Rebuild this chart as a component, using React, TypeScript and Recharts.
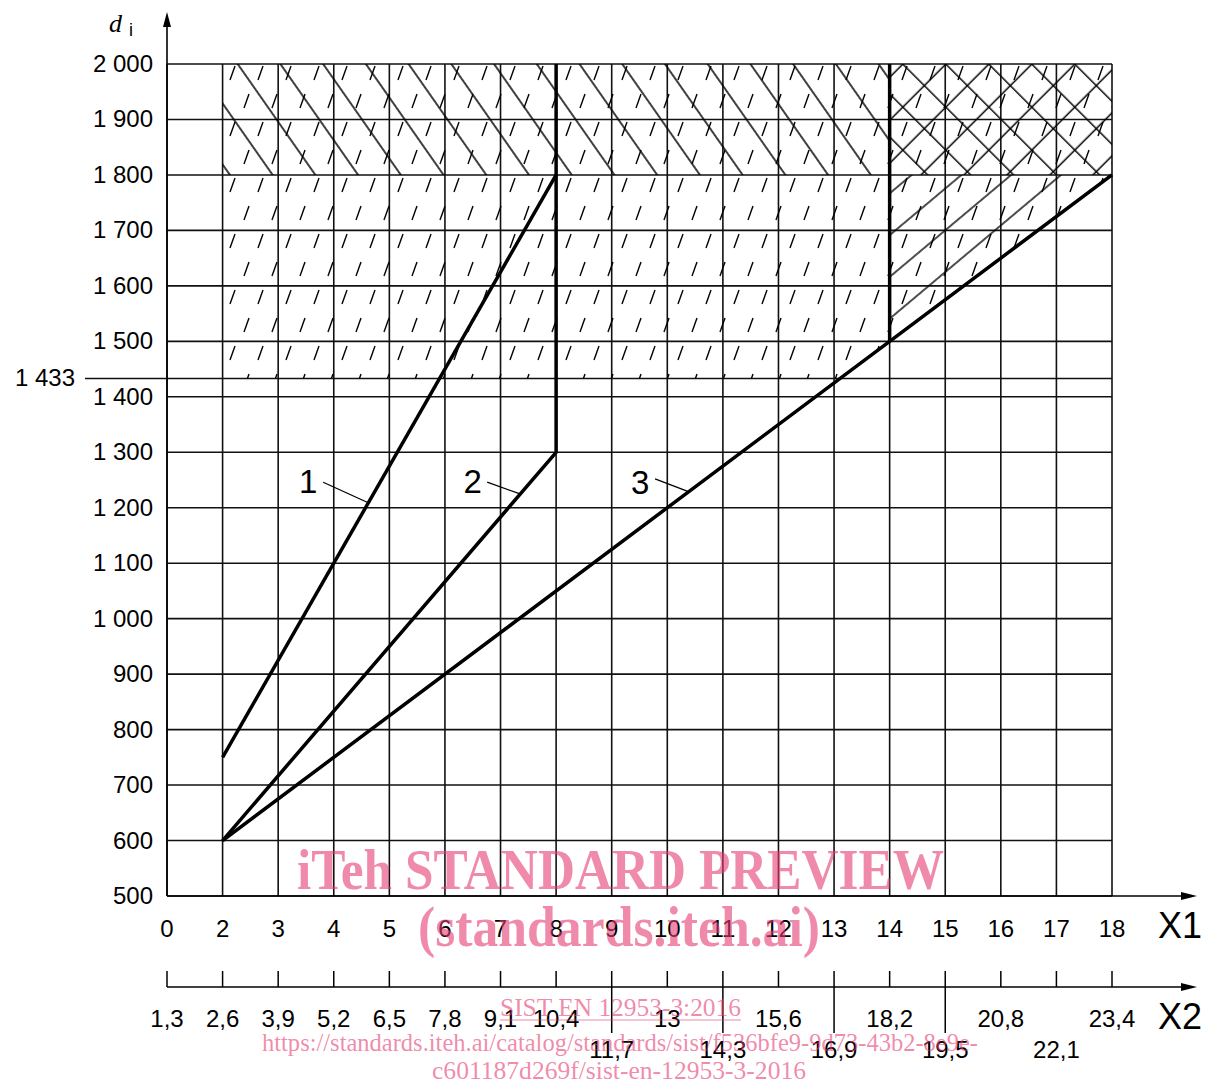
import React from 'react';
import {
  ComposedChart,
  Line,
  Area,
  XAxis,
  YAxis,
  CartesianGrid,
  ReferenceArea,
  ReferenceLine,
  ReferenceDot,
} from 'recharts';

// ─── Axes ────────────────────────────────────────────────────────────────────

// position 1 is the origin of the drawn axis (labelled "0" on X1, "1,3" on X2)
const xPositions = [1, 2, 3, 4, 5, 6, 7, 8, 9, 10, 11, 12, 13, 14, 15, 16, 17, 18];
const x1Labels = ['0', '2', '3', '4', '5', '6', '7', '8', '9', '10', '11', '12', '13', '14', '15', '16', '17', '18'];
const x2Labels = ['1,3', '2,6', '3,9', '5,2', '6,5', '7,8', '9,1', '10,4', '11,7', '13', '14,3', '15,6', '16,9', '18,2', '19,5', '20,8', '22,1', '23,4'];
const x2LowerRow = [9, 11, 13, 15, 17];
const x2LongTicks = [9, 11, 13, 15];

const yTicks = [500, 600, 700, 800, 900, 1000, 1100, 1200, 1300, 1400, 1433, 1500, 1600, 1700, 1800, 1900, 2000];
const limitDi = 1433;

// ─── Curves ──────────────────────────────────────────────────────────────────

const curve1 = [
  { x: 2, y: 750 },
  { x: 8, y: 1800 },
];
const curve2 = [
  { x: 2, y: 600 },
  { x: 8, y: 1300 },
  { x: 8, y: 2000 },
];
const curve3 = [
  { x: 2, y: 600 },
  { x: 14, y: 1500 },
  { x: 18, y: 1800 },
];
const limit14 = [
  { x: 14, y: 1500 },
  { x: 14, y: 2000 },
];

// ─── Hatched zones ───────────────────────────────────────────────────────────

const dashZone = [
  { x: 2, band: [1433, 2000] },
  { x: 13.1, band: [1433, 2000] },
  { x: 18, band: [1800, 2000] },
];
const slashZone = [
  { x: 14, band: [1500, 1800] },
  { x: 18, band: [1800, 1800] },
];
const backZoneX = [2, 14];
const crossZoneX = [14, 18];
const topZoneY = [1800, 2000];

// ─── Curve tags ──────────────────────────────────────────────────────────────

const tagNames = ['1', '2', '3'];
const tagX = [3.54, 6.5, 9.51];
const tagY = [1248, 1248, 1246];
const leaderStart = [
  { x: 3.81, y: 1246 },
  { x: 6.76, y: 1246 },
  { x: 9.78, y: 1252 },
];
const leaderEnd = [
  { x: 4.62, y: 1209 },
  { x: 7.35, y: 1225 },
  { x: 10.38, y: 1229 },
];

// ─── Style ───────────────────────────────────────────────────────────────────

const FONT = '"Liberation Sans", Arial, Helvetica, sans-serif';
const SERIF = '"Liberation Serif", "Times New Roman", serif';
const INK = '#000';
const GRID = '#111';
const WATERMARK = 'rgb(230,60,115)';
const TICK_FONT = 24;

const fmtThousands = (v: number) =>
  v >= 1000 ? `${Math.floor(v / 1000)} ${String(v % 1000).padStart(3, '0')}` : String(v);

function YTick({ x, y, payload }: any) {
  const v = payload.value;
  if (v === limitDi) {
    return (
      <g>
        <line x1={x - 82} y1={y} x2={x} y2={y} stroke={GRID} strokeWidth={1.6} />
        <text x={x - 92} y={y} dy={8} textAnchor="end" fontSize={TICK_FONT} fontFamily={FONT} fill={INK}>
          {fmtThousands(v)}
        </text>
      </g>
    );
  }
  return (
    <g>
      <text x={x - 14} y={y} dy={8} textAnchor="end" fontSize={TICK_FONT} fontFamily={FONT} fill={INK}>
        {fmtThousands(v)}
      </text>
      {v === 2000 && (
        <g>
          <line x1={x} y1={y} x2={x} y2={y - 40} stroke={INK} strokeWidth={1.6} />
          <polygon points={`${x},${y - 52} ${x - 4},${y - 37} ${x + 4},${y - 37}`} fill={INK} />
        </g>
      )}
    </g>
  );
}

function AxisArrow({ x, y }: { x: number; y: number }) {
  return (
    <g>
      <line x1={x} y1={y} x2={x + 72} y2={y} stroke={INK} strokeWidth={1.6} />
      <polygon points={`${x + 85},${y} ${x + 69},${y - 4} ${x + 69},${y + 4}`} fill={INK} />
    </g>
  );
}

function X1Tick({ x, y, payload }: any) {
  const i = xPositions.indexOf(payload.value);
  return (
    <g>
      <text x={x} y={y + 41} textAnchor="middle" fontSize={TICK_FONT} fontFamily={FONT} fill={INK}>
        {x1Labels[i]}
      </text>
      {payload.value === 18 && <AxisArrow x={x} y={y} />}
    </g>
  );
}

function X2Tick({ x, y, payload }: any) {
  const v = payload.value;
  const i = xPositions.indexOf(v);
  const lower = x2LowerRow.includes(v);
  const long = x2LongTicks.includes(v);
  return (
    <g>
      <line x1={x} y1={y - 16} x2={x} y2={long ? y + 46 : y} stroke={INK} strokeWidth={1.5} />
      <text x={x} y={y + (lower ? 71 : 40)} textAnchor="middle" fontSize={TICK_FONT} fontFamily={FONT} fill={INK}>
        {x2Labels[i]}
      </text>
      {v === 18 && <AxisArrow x={x} y={y} />}
    </g>
  );
}

const axisName = (name: string) => (props: any) => {
  const vb = props.viewBox;
  return (
    <text x={vb.x + vb.width + 68} y={vb.y + 42} textAnchor="middle" fontSize={36} fontFamily={FONT} fill={INK}>
      {name}
    </text>
  );
};

const yName = (props: any) => {
  const vb = props.viewBox;
  return (
    <text x={vb.x + vb.width - 58} y={vb.y - 32} fill={INK}>
      <tspan fontFamily={SERIF} fontStyle="italic" fontSize={26}>
        d
      </tspan>
      <tspan fontFamily={FONT} fontSize={18} dx={7} dy={4}>
        i
      </tspan>
    </text>
  );
};

const tagShape = (name: string) => (props: any) => (
  <text x={props.cx} y={props.cy} dy={12} textAnchor="middle" fontSize={33} fontFamily={FONT} fill={INK}>
    {name}
  </text>
);

function Hatches() {
  return (
    <svg width={0} height={0} style={{ position: 'absolute' }}>
      <defs>
        <pattern id="hDash" patternUnits="userSpaceOnUse" width={28} height={56}>
          <line x1={6} y1={24} x2={11} y2={10} stroke={INK} strokeWidth={1.4} />
          <line x1={20} y1={52} x2={25} y2={38} stroke={INK} strokeWidth={1.4} />
        </pattern>
        <pattern id="hBack" patternUnits="userSpaceOnUse" width={20} height={35} patternTransform="rotate(55)">
          <line x1={0} y1={17} x2={20} y2={17} stroke={INK} strokeWidth={1.5} />
        </pattern>
        <pattern id="hCross" patternUnits="userSpaceOnUse" width={30.4} height={30.4} patternTransform="rotate(45)">
          <line x1={0} y1={15} x2={30.4} y2={15} stroke={INK} strokeWidth={1.5} />
          <line x1={15} y1={0} x2={15} y2={30.4} stroke={INK} strokeWidth={1.5} />
        </pattern>
        <pattern id="hSlash" patternUnits="userSpaceOnUse" width={20} height={32} patternTransform="rotate(-40)">
          <line x1={0} y1={16} x2={20} y2={16} stroke={INK} strokeWidth={1.4} />
        </pattern>
      </defs>
    </svg>
  );
}

function Watermark() {
  return (
    <svg
      width={1208}
      height={1086}
      style={{ position: 'absolute', left: 0, top: 0, pointerEvents: 'none' }}
    >
      <g fill={WATERMARK} fillOpacity={0.6} fontFamily={SERIF}>
        <text x={297} y={889} fontSize={56} fontWeight="bold" textLength={647} lengthAdjust="spacingAndGlyphs">
          iTeh STANDARD PREVIEW
        </text>
        <text x={418} y={946} fontSize={56} fontWeight="bold" textLength={402} lengthAdjust="spacingAndGlyphs">
          (standards.iteh.ai)
        </text>
        <text x={500} y={1016} fontSize={26} textLength={241} lengthAdjust="spacingAndGlyphs">
          SIST EN 12953-3:2016
        </text>
        <text x={262} y={1051} fontSize={26} textLength={716} lengthAdjust="spacingAndGlyphs">
          https://standards.iteh.ai/catalog/standards/sist/f536bfe9-9d73-43b2-8e9e-
        </text>
        <text x={432} y={1079} fontSize={26} textLength={374} lengthAdjust="spacingAndGlyphs">
          c601187d269f/sist-en-12953-3-2016
        </text>
      </g>
      <line x1={500} y1={1020} x2={741} y2={1020} stroke={WATERMARK} strokeOpacity={0.6} strokeWidth={1.2} />
    </svg>
  );
}

export default function App() {
  return (
    <div style={{ position: 'absolute', left: 0, top: 0, width: 1208, height: 1086, background: '#fff' }}>
      <Hatches />
      <ComposedChart width={1208} height={1086} margin={{ top: 64, right: 96, bottom: 0, left: 0 }}>
        <CartesianGrid stroke={GRID} strokeWidth={1.6} />
        <XAxis
          dataKey="x"
          type="number"
          domain={[1, 18]}
          ticks={xPositions}
          interval={0}
          height={91}
          tickSize={0}
          tickMargin={0}
          tickLine={false}
          axisLine={{ stroke: INK, strokeWidth: 1.6 }}
          tick={<X1Tick />}
          label={{ content: axisName('X1') }}
        />
        <XAxis
          xAxisId="b"
          dataKey="x"
          type="number"
          domain={[1, 18]}
          ticks={xPositions}
          interval={0}
          height={99}
          tickSize={0}
          tickMargin={0}
          tickLine={false}
          axisLine={{ stroke: INK, strokeWidth: 1.6 }}
          tick={<X2Tick />}
          label={{ content: axisName('X2') }}
        />
        <YAxis
          type="number"
          domain={[500, 2000]}
          ticks={yTicks}
          interval={0}
          width={167}
          tickSize={0}
          tickMargin={0}
          tickLine={false}
          axisLine={{ stroke: INK, strokeWidth: 1.6 }}
          tick={<YTick />}
          label={{ content: yName }}
        />

        <Area data={dashZone} dataKey="band" type="linear" stroke="none" fill="url(#hDash)" fillOpacity={1} dot={false} activeDot={false} isAnimationActive={false} />
        <Area data={slashZone} dataKey="band" type="linear" stroke="none" fill="url(#hSlash)" fillOpacity={1} dot={false} activeDot={false} isAnimationActive={false} />
        <ReferenceArea x1={backZoneX[0]} x2={backZoneX[1]} y1={topZoneY[0]} y2={topZoneY[1]} fill="url(#hBack)" fillOpacity={1} stroke="none" />
        <ReferenceArea x1={crossZoneX[0]} x2={crossZoneX[1]} y1={topZoneY[0]} y2={topZoneY[1]} fill="url(#hCross)" fillOpacity={1} stroke="none" />

        {tagNames.map((name, i) => (
          <ReferenceLine
            key={`lead${name}`}
            segment={[leaderStart[i], leaderEnd[i]]}
            stroke={INK}
            strokeWidth={1.3}
          />
        ))}
        {tagNames.map((name, i) => (
          <ReferenceDot key={`tag${name}`} x={tagX[i]} y={tagY[i]} r={0} shape={tagShape(name)} />
        ))}

        <Line data={curve1} dataKey="y" type="linear" stroke={INK} strokeWidth={3.5} dot={false} activeDot={false} isAnimationActive={false} />
        <Line data={curve2} dataKey="y" type="linear" stroke={INK} strokeWidth={3.5} dot={false} activeDot={false} isAnimationActive={false} />
        <Line data={curve3} dataKey="y" type="linear" stroke={INK} strokeWidth={3.5} dot={false} activeDot={false} isAnimationActive={false} />
        {/* the x=14 limit rides on the X2 scale, which is the same one as X1 */}
        <Line xAxisId="b" data={limit14} dataKey="y" type="linear" stroke={INK} strokeWidth={3.5} dot={false} activeDot={false} isAnimationActive={false} />
      </ComposedChart>
      <Watermark />
    </div>
  );
}
